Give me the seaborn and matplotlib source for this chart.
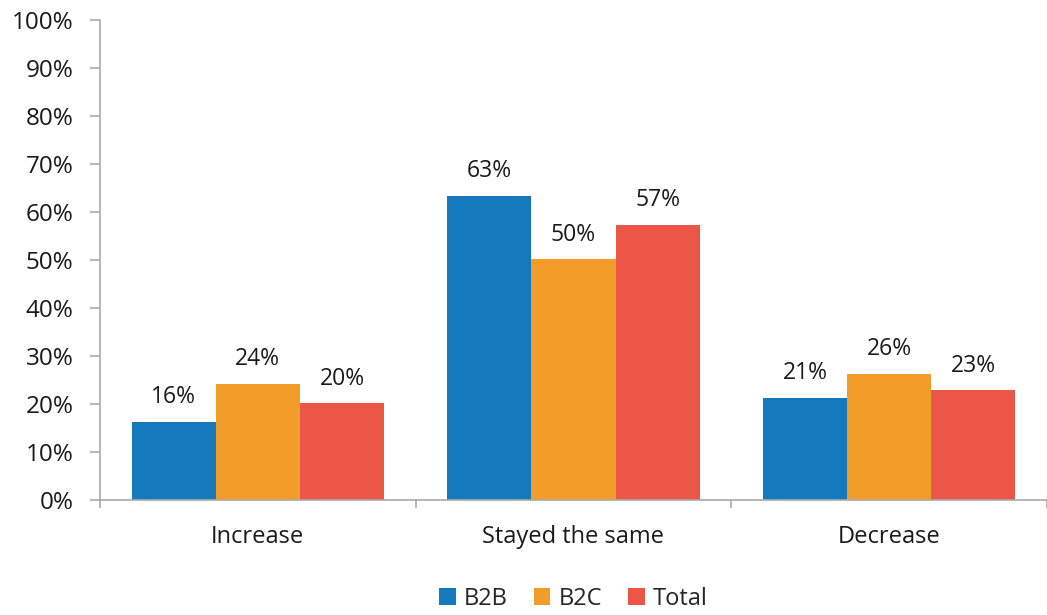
import matplotlib
matplotlib.use("Agg")
import matplotlib.pyplot as plt
import seaborn as sns
import pandas as pd
from matplotlib.ticker import FixedLocator, PercentFormatter

categories = ["Increase", "Stayed the same", "Decrease"]
series = ["B2B", "B2C", "Total"]
b2b = [16.3, 63.4, 21.3]
b2c = [24.2, 50.2, 26.3]
total = [20.2, 57.3, 22.9]
yticks = list(range(0, 101, 10))
colors = ["#1479BD", "#F29D2A", "#EC5647"]

rows = []
for name, vals in zip(series, [b2b, b2c, total]):
    for c, v in zip(categories, vals):
        rows.append({"category": c, "series": name, "value": v})
df = pd.DataFrame(rows)

sns.set_theme(style="white")
plt.rcParams["font.family"] = ["Open Sans", "DejaVu Sans"]

fig = plt.figure(figsize=(10.47, 6.15), dpi=100)
ax = fig.add_axes([0.0955, 0.187, 0.9045, 0.7805])
sns.barplot(data=df, x="category", y="value", hue="series", palette=colors,
            order=categories, hue_order=series, width=0.8, saturation=1,
            ax=ax, edgecolor="none", linewidth=0)

for cont in ax.containers:
    ax.bar_label(cont, labels=[f"{int(round(v.get_height()))}%" for v in cont],
                 padding=9, fontsize=16.5, color="#1a1a1a")

ax.set_ylim(0, 100)
ax.set_xlim(-0.5, 2.5)
ax.set_yticks(yticks)
ax.yaxis.set_major_formatter(PercentFormatter(decimals=0))
ax.set_xlabel("")
ax.set_ylabel("")

for s in ["top", "right"]:
    ax.spines[s].set_visible(False)
for s in ["left", "bottom"]:
    ax.spines[s].set_color("#AAAAAA")
    ax.spines[s].set_linewidth(1.2)

ax.tick_params(axis="y", which="major", left=True, length=7, width=1.2,
               color="#AAAAAA", labelsize=17.5, labelcolor="#1a1a1a", pad=12)
ax.tick_params(axis="x", which="major", length=0, labelsize=17,
               labelcolor="#1a1a1a", pad=18)
ax.xaxis.set_minor_locator(FixedLocator([-0.5, 0.5, 1.5, 2.5]))
ax.tick_params(axis="x", which="minor", bottom=True, length=6, width=1.2,
               color="#AAAAAA")

leg = ax.legend(loc="lower center", bbox_to_anchor=(0.5, -0.275), ncol=3,
                frameon=False, fontsize=17, handlelength=0.7, handleheight=0.7,
                handletextpad=0.35, columnspacing=1.1)

fig.savefig("out.png", dpi=100)
